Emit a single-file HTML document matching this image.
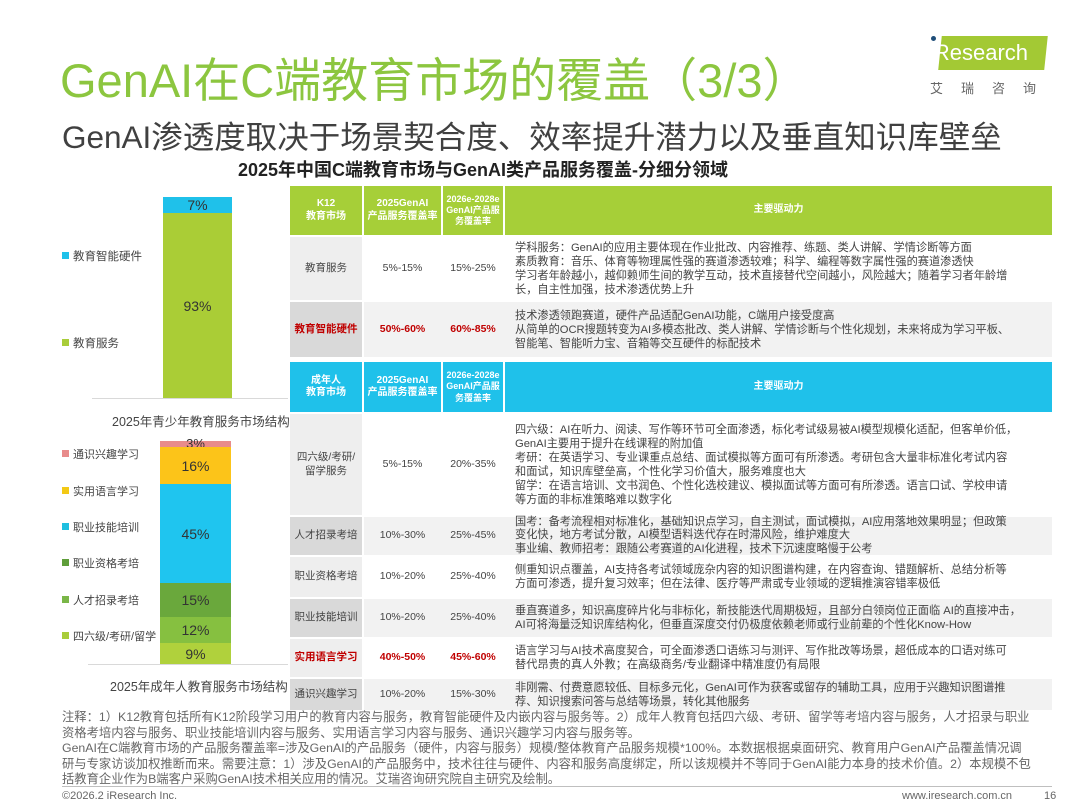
<!DOCTYPE html>
<html><head><meta charset="utf-8">
<style>
*{margin:0;padding:0;box-sizing:border-box}
body{width:1080px;height:810px;background:#fff;position:relative;overflow:hidden;font-family:"Liberation Sans","Noto Sans CJK SC",sans-serif;color:#404040}
.a{position:absolute}
.t{white-space:nowrap}
.cell{position:absolute;display:flex;align-items:center;justify-content:center;text-align:center;font-size:10.5px;line-height:1.25;color:#444}
.hd{color:#fff;font-weight:bold;font-size:10px}
.d{justify-content:flex-start;text-align:left;padding-left:10px;font-size:11.2px;line-height:14px;white-space:nowrap}
.red{color:#c00000;font-weight:bold}
.lg{position:absolute;font-size:11.5px;color:#444;white-space:nowrap}
.lg i{display:inline-block;width:7px;height:7px;margin-right:4px;vertical-align:1px}
.seg{position:absolute;left:0;width:100%;display:flex;align-items:center;justify-content:center;font-size:14px;color:#333}
</style></head><body>
<div class="a t" style="left:60px;top:42px;font-size:47px;color:#8cc63f">GenAI在C端教育市场的覆盖（3/3）</div>
<div class="a t" style="left:62px;top:112px;font-size:31.5px;color:#404040">GenAI渗透度取决于场景契合度、效率提升潜力以及垂直知识库壁垒</div>
<div class="a t" style="left:238px;top:156px;font-size:18px;font-weight:bold;color:#222">2025年中国C端教育市场与GenAI类产品服务覆盖-分细分领域</div>
<!-- logo -->
<div class="a" style="left:940px;top:36px;width:106px;height:34px;background:#a3c934;transform:skewX(-6deg)"></div>
<div class="a t" style="left:929px;top:40px;font-size:22px;color:#fff">iResearch</div>
<div class="a" style="left:931px;top:36px;width:5px;height:5px;border-radius:50%;background:#1f4e79"></div>
<div class="a t" style="left:930px;top:78px;font-size:13px;color:#666;letter-spacing:18px">艾瑞咨询</div>

<!-- chart 1 -->
<div class="lg" style="left:62px;top:248px"><i style="background:#1fc1ea"></i>教育智能硬件</div>
<div class="lg" style="left:62px;top:335px"><i style="background:#a9cd3a"></i>教育服务</div>
<div class="a" style="left:163px;top:197px;width:69px;height:201px">
<div class="seg" style="top:0;height:16px;background:#1fc1ea">7%</div>
<div class="seg" style="top:16px;height:185px;background:#aacd36">93%</div>
</div>
<div class="a" style="left:92px;top:398px;width:196px;height:1px;background:#d9d9d9"></div>
<div class="a t" style="left:112px;top:411px;font-size:12.5px;color:#444">2025年青少年教育服务市场结构</div>

<!-- chart 2 -->
<div class="lg" style="left:62px;top:446px;font-size:11px"><i style="background:#e88b8b"></i>通识兴趣学习</div>
<div class="lg" style="left:62px;top:483px;font-size:11px"><i style="background:#f3c915"></i>实用语言学习</div>
<div class="lg" style="left:62px;top:519px;font-size:11px"><i style="background:#1fbfe0"></i>职业技能培训</div>
<div class="lg" style="left:62px;top:555px;font-size:11px"><i style="background:#5f9e3a"></i>职业资格考培</div>
<div class="lg" style="left:62px;top:592px;font-size:11px"><i style="background:#7ab648"></i>人才招录考培</div>
<div class="lg" style="left:62px;top:628px;font-size:11px"><i style="background:#a9cd3a"></i>四六级/考研/留学</div>
<div class="a" style="left:160px;top:441px;width:71px;height:223px">
<div class="seg" style="top:0;height:6px;background:#e88b8b;font-size:13px;line-height:6px">3%</div>
<div class="seg" style="top:6px;height:37px;background:#fcc419">16%</div>
<div class="seg" style="top:43px;height:99px;background:#1fc5ef">45%</div>
<div class="seg" style="top:142px;height:34px;background:#6aa83c">15%</div>
<div class="seg" style="top:176px;height:26px;background:#86c040">12%</div>
<div class="seg" style="top:202px;height:21px;background:#b0d13c">9%</div>
</div>
<div class="a" style="left:88px;top:664px;width:200px;height:1px;background:#d9d9d9"></div>
<div class="a t" style="left:110px;top:676px;font-size:12.5px;color:#444">2025年成年人教育服务市场结构</div>

<!-- table K12 -->
<div class="a" style="left:290px;top:186px;width:762px;height:49px;background:#a6cf38"></div>
<div class="cell hd" style="left:290px;top:186px;width:72px;height:49px">K12<br>教育市场</div>
<div class="cell hd" style="left:364px;top:186px;width:77px;height:49px">2025GenAI<br>产品服务覆盖率</div>
<div class="cell hd" style="left:443px;top:186px;width:60px;height:49px;font-size:9px">2026e-2028e<br>GenAI产品服<br>务覆盖率</div>
<div class="cell hd" style="left:505px;top:186px;width:547px;height:49px">主要驱动力</div>
<div class="a" style="left:362px;top:186px;width:2px;height:49px;background:#fff"></div>
<div class="a" style="left:441px;top:186px;width:2px;height:49px;background:#fff"></div>
<div class="a" style="left:503px;top:186px;width:2px;height:49px;background:#fff"></div>

<div class="a" style="left:290px;top:237px;width:72px;height:63px;background:#eeeeee"></div>
<div class="cell" style="left:290px;top:237px;width:72px;height:63px">教育服务</div>
<div class="cell" style="left:364px;top:237px;width:77px;height:63px">5%-15%</div>
<div class="cell" style="left:443px;top:237px;width:60px;height:63px">15%-25%</div>
<div class="cell d" style="left:505px;top:237px;width:547px;height:63px">学科服务：GenAI的应用主要体现在作业批改、内容推荐、练题、类人讲解、学情诊断等方面<br>素质教育：音乐、体育等物理属性强的赛道渗透较难；科学、编程等数字属性强的赛道渗透快<br>学习者年龄越小，越仰赖师生间的教学互动，技术直接替代空间越小，风险越大；随着学习者年龄增<br>长，自主性加强，技术渗透优势上升</div>

<div class="a" style="left:290px;top:302px;width:72px;height:55px;background:#d9d9d9"></div>
<div class="a" style="left:364px;top:302px;width:688px;height:55px;background:#f2f2f2"></div>
<div class="cell red" style="left:290px;top:302px;width:72px;height:55px">教育智能硬件</div>
<div class="cell red" style="left:364px;top:302px;width:77px;height:55px">50%-60%</div>
<div class="cell red" style="left:443px;top:302px;width:60px;height:55px">60%-85%</div>
<div class="cell d" style="left:505px;top:302px;width:547px;height:55px">技术渗透领跑赛道，硬件产品适配GenAI功能，C端用户接受度高<br>从简单的OCR搜题转变为AI多模态批改、类人讲解、学情诊断与个性化规划，未来将成为学习平板、<br>智能笔、智能听力宝、音箱等交互硬件的标配技术</div>

<!-- adult -->
<div class="a" style="left:290px;top:362px;width:762px;height:50px;background:#1fc1ea"></div>
<div class="cell hd" style="left:290px;top:362px;width:72px;height:50px">成年人<br>教育市场</div>
<div class="cell hd" style="left:364px;top:362px;width:77px;height:50px">2025GenAI<br>产品服务覆盖率</div>
<div class="cell hd" style="left:443px;top:362px;width:60px;height:50px;font-size:9px">2026e-2028e<br>GenAI产品服<br>务覆盖率</div>
<div class="cell hd" style="left:505px;top:362px;width:547px;height:50px">主要驱动力</div>
<div class="a" style="left:362px;top:362px;width:2px;height:50px;background:#fff"></div>
<div class="a" style="left:441px;top:362px;width:2px;height:50px;background:#fff"></div>
<div class="a" style="left:503px;top:362px;width:2px;height:50px;background:#fff"></div>

<div class="a" style="left:290px;top:414px;width:72px;height:101px;background:#eeeeee"></div>
<div class="cell" style="left:290px;top:414px;width:72px;height:101px">四六级/考研/<br>留学服务</div>
<div class="cell" style="left:364px;top:414px;width:77px;height:101px">5%-15%</div>
<div class="cell" style="left:443px;top:414px;width:60px;height:101px">20%-35%</div>
<div class="cell d" style="left:505px;top:414px;width:547px;height:101px">四六级：AI在听力、阅读、写作等环节可全面渗透，标化考试级易被AI模型规模化适配，但客单价低，<br>GenAI主要用于提升在线课程的附加值<br>考研：在英语学习、专业课重点总结、面试模拟等方面可有所渗透。考研包含大量非标准化考试内容<br>和面试，知识库壁垒高，个性化学习价值大，服务难度也大<br>留学：在语言培训、文书润色、个性化选校建议、模拟面试等方面可有所渗透。语言口试、学校申请<br>等方面的非标准策略难以数字化</div>

<div class="a" style="left:290px;top:517px;width:72px;height:38px;background:#d9d9d9"></div>
<div class="a" style="left:364px;top:517px;width:688px;height:38px;background:#f2f2f2"></div>
<div class="cell" style="left:290px;top:517px;width:72px;height:38px">人才招录考培</div>
<div class="cell" style="left:364px;top:517px;width:77px;height:38px">10%-30%</div>
<div class="cell" style="left:443px;top:517px;width:60px;height:38px">25%-45%</div>
<div class="cell d" style="left:505px;top:515px;width:547px;height:42px;line-height:13.5px">国考：备考流程相对标准化，基础知识点学习，自主测试，面试模拟，AI应用落地效果明显；但政策<br>变化快，地方考试分散，AI模型语料迭代存在时滞风险，维护难度大<br>事业编、教师招考：跟随公考赛道的AI化进程，技术下沉速度略慢于公考</div>

<div class="a" style="left:290px;top:557px;width:72px;height:40px;background:#eeeeee"></div>
<div class="cell" style="left:290px;top:557px;width:72px;height:40px">职业资格考培</div>
<div class="cell" style="left:364px;top:557px;width:77px;height:40px">10%-20%</div>
<div class="cell" style="left:443px;top:557px;width:60px;height:40px">25%-40%</div>
<div class="cell d" style="left:505px;top:557px;width:547px;height:40px">侧重知识点覆盖，AI支持各考试领域庞杂内容的知识图谱构建，在内容查询、错题解析、总结分析等<br>方面可渗透，提升复习效率；但在法律、医疗等严肃或专业领域的逻辑推演容错率极低</div>

<div class="a" style="left:290px;top:599px;width:72px;height:38px;background:#d9d9d9"></div>
<div class="a" style="left:364px;top:599px;width:688px;height:38px;background:#f2f2f2"></div>
<div class="cell" style="left:290px;top:599px;width:72px;height:38px">职业技能培训</div>
<div class="cell" style="left:364px;top:599px;width:77px;height:38px">10%-20%</div>
<div class="cell" style="left:443px;top:599px;width:60px;height:38px">25%-40%</div>
<div class="cell d" style="left:505px;top:599px;width:547px;height:38px">垂直赛道多，知识高度碎片化与非标化，新技能迭代周期极短，且部分白领岗位正面临 AI的直接冲击，<br>AI可将海量泛知识库结构化，但垂直深度交付仍极度依赖老师或行业前辈的个性化Know-How</div>

<div class="a" style="left:290px;top:639px;width:72px;height:38px;background:#eeeeee"></div>
<div class="cell red" style="left:290px;top:639px;width:72px;height:38px">实用语言学习</div>
<div class="cell red" style="left:364px;top:639px;width:77px;height:38px">40%-50%</div>
<div class="cell red" style="left:443px;top:639px;width:60px;height:38px">45%-60%</div>
<div class="cell d" style="left:505px;top:639px;width:547px;height:38px">语言学习与AI技术高度契合，可全面渗透口语练习与测评、写作批改等场景，超低成本的口语对练可<br>替代昂贵的真人外教；在高级商务/专业翻译中精准度仍有局限</div>

<div class="a" style="left:290px;top:679px;width:72px;height:31px;background:#d9d9d9"></div>
<div class="a" style="left:364px;top:679px;width:688px;height:31px;background:#f2f2f2"></div>
<div class="cell" style="left:290px;top:679px;width:72px;height:31px">通识兴趣学习</div>
<div class="cell" style="left:364px;top:679px;width:77px;height:31px">10%-20%</div>
<div class="cell" style="left:443px;top:679px;width:60px;height:31px">15%-30%</div>
<div class="cell d" style="left:505px;top:679px;width:547px;height:31px">非刚需、付费意愿较低、目标多元化，GenAI可作为获客或留存的辅助工具，应用于兴趣知识图谱推<br>荐、知识搜索问答与总结等场景，转化其他服务</div>

<!-- footnote -->
<div class="a" style="left:62px;top:710px;width:1000px;font-size:12.3px;line-height:15.5px;color:#666;white-space:nowrap">注释：1）K12教育包括所有K12阶段学习用户的教育内容与服务，教育智能硬件及内嵌内容与服务等。2）成年人教育包括四六级、考研、留学等考培内容与服务，人才招录与职业<br>资格考培内容与服务、职业技能培训内容与服务、实用语言学习内容与服务、通识兴趣学习内容与服务等。<br>GenAI在C端教育市场的产品服务覆盖率=涉及GenAI的产品服务（硬件，内容与服务）规模/整体教育产品服务规模*100%。本数据根据桌面研究、教育用户GenAI产品覆盖情况调<br>研与专家访谈加权推断而来。需要注意：1）涉及GenAI的产品服务中，技术往往与硬件、内容和服务高度绑定，所以该规模并不等同于GenAI能力本身的技术价值。2）本规模不包<br>括教育企业作为B端客户采购GenAI技术相关应用的情况。艾瑞咨询研究院自主研究及绘制。</div>
<div class="a" style="left:62px;top:786px;width:990px;height:1px;background:#bfbfbf"></div>
<div class="a t" style="left:62px;top:790px;font-size:11px;color:#666">©2026.2 iResearch Inc.</div>
<div class="a t" style="left:902px;top:790px;font-size:11px;color:#666">www.iresearch.com.cn</div>
<div class="a t" style="left:1044px;top:790px;font-size:11px;color:#666">16</div>
</body></html>
